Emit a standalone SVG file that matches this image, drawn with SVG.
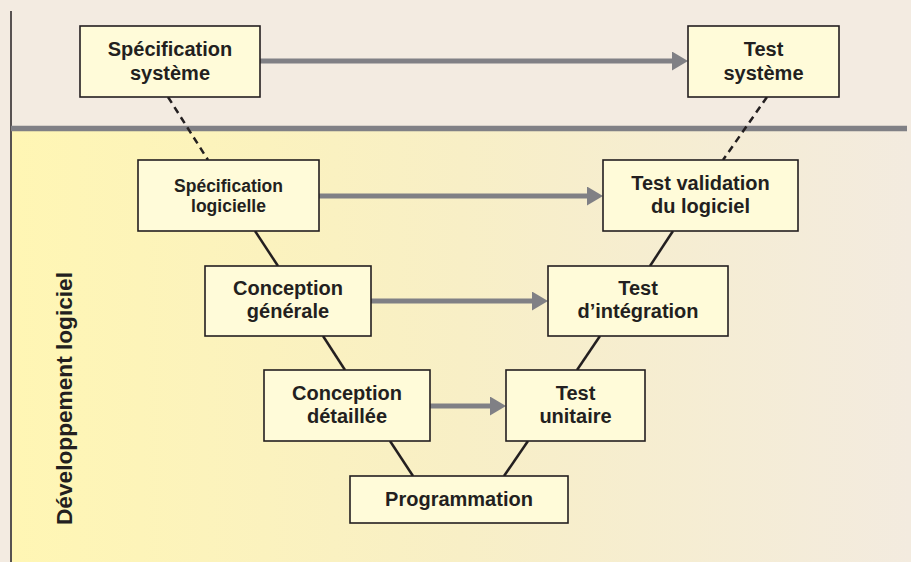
<svg xmlns="http://www.w3.org/2000/svg" width="911" height="562" viewBox="0 0 911 562">
<style>
.box{fill:#fffbd9;stroke:#231f20;stroke-width:1.6}
.t{font-family:"Liberation Sans",Arial,sans-serif;font-weight:bold;font-size:20px;fill:#231f20;text-anchor:middle}
.s{font-size:17.5px}
.link{stroke:#231f20;stroke-width:2.5;fill:none}
.dash{stroke-dasharray:7,5}
.arr{stroke:#808085;stroke-width:5;fill:none;marker-end:url(#ah)}
</style>
<defs>
<linearGradient id="bg" x1="0" y1="0" x2="1" y2="0">
<stop offset="0" stop-color="#fff6b4"/>
<stop offset="0.5" stop-color="#f8efc6"/>
<stop offset="1" stop-color="#f3ebdf"/>
</linearGradient>
<marker id="ah" markerUnits="userSpaceOnUse" markerWidth="16" markerHeight="19" refX="0" refY="9.5" orient="auto" viewBox="0 0 16 19">
<path d="M0,0 L16,9.5 L0,19 z" fill="#808085"/>
</marker>
</defs>
<rect x="0" y="0" width="911" height="562" fill="#f3ebe1"/>
<rect x="12" y="131" width="899" height="431" fill="url(#bg)"/>
<line x1="11" y1="11" x2="11" y2="562" stroke="#231f20" stroke-width="1.5"/>
<line x1="11" y1="128.5" x2="907" y2="128.5" stroke="#808085" stroke-width="5.5"/>
<text class="t" transform="translate(71.5,398.5) rotate(-90)" textLength="253" lengthAdjust="spacingAndGlyphs" style="font-size:22.5px">Développement logiciel</text>
<g id="connectors">
<line class="link dash" x1="168" y1="97" x2="208" y2="160"/>
<line class="link dash" x1="767" y1="97" x2="723" y2="160"/>
<line class="link" x1="255" y1="231" x2="278" y2="266"/>
<line class="link" x1="323" y1="336" x2="345" y2="370"/>
<line class="link" x1="390" y1="441" x2="413" y2="476"/>
<line class="link" x1="673" y1="231" x2="650" y2="266"/>
<line class="link" x1="600" y1="336" x2="577" y2="370"/>
<line class="link" x1="528" y1="441" x2="504" y2="476"/>
<line class="arr" x1="260" y1="61" x2="672" y2="61"/>
<line class="arr" x1="319" y1="196" x2="587" y2="196"/>
<line class="arr" x1="371" y1="301" x2="532" y2="301"/>
<line class="arr" x1="430" y1="406" x2="490" y2="406"/>
</g>
<g id="spec-systeme">
<rect class="box" x="80" y="26" width="180" height="71"/>
<text class="t" x="170" y="56">Spécification</text>
<text class="t" x="170" y="80">système</text>
</g>
<g id="test-systeme">
<rect class="box" x="688" y="26" width="151" height="71"/>
<text class="t" x="763.5" y="56">Test</text>
<text class="t" x="763.5" y="80">système</text>
</g>
<g id="spec-logicielle">
<rect class="box" x="138" y="160" width="181" height="71"/>
<text class="t s" x="228.5" y="192">Spécification</text>
<text class="t s" x="228.5" y="212">logicielle</text>
</g>
<g id="test-validation">
<rect class="box" x="603" y="160" width="195" height="71"/>
<text class="t" x="700.5" y="190">Test validation</text>
<text class="t" x="700.5" y="213">du logiciel</text>
</g>
<g id="conception-generale">
<rect class="box" x="205" y="266" width="166" height="70"/>
<text class="t" x="288" y="295">Conception</text>
<text class="t" x="288" y="318">générale</text>
</g>
<g id="test-integration">
<rect class="box" x="548" y="266" width="180" height="70"/>
<text class="t" x="638" y="295">Test</text>
<text class="t" x="638" y="318">d’intégration</text>
</g>
<g id="conception-detaillee">
<rect class="box" x="264" y="370" width="166" height="71"/>
<text class="t" x="347" y="400">Conception</text>
<text class="t" x="347" y="423">détaillée</text>
</g>
<g id="test-unitaire">
<rect class="box" x="506" y="370" width="139" height="71"/>
<text class="t" x="575.5" y="400">Test</text>
<text class="t" x="575.5" y="423">unitaire</text>
</g>
<g id="programmation">
<rect class="box" x="350" y="476" width="218" height="47"/>
<text class="t" x="459" y="506">Programmation</text>
</g>
</svg>
